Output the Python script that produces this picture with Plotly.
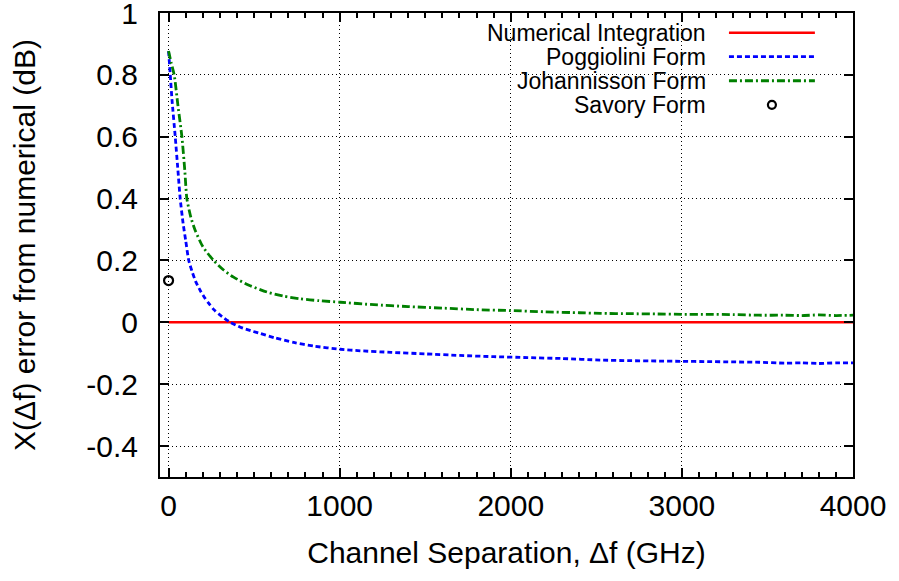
import plotly.graph_objects as go

# ---- data ----
num_x = [0, 4000]
num_y = [0, 0]

pog_x = [0, 10, 20, 39, 55, 68, 85, 100, 118, 140, 160, 185, 210, 234, 263, 300, 361, 420, 480,
         536, 620, 731, 850, 1004, 1121, 1300, 1500, 1700, 1900, 2100, 2300, 2524, 2700, 2850,
         3000, 3150, 3300, 3450, 3600, 3700, 3800, 3900, 4000]
pog_y = [0.877, 0.80, 0.72, 0.60, 0.49, 0.40, 0.32, 0.265, 0.20, 0.16, 0.13, 0.103, 0.08, 0.062,
         0.042, 0.024, 0.0, -0.016, -0.027, -0.036, -0.050, -0.065, -0.077, -0.087, -0.092, -0.097,
         -0.102, -0.107, -0.111, -0.114, -0.117, -0.122, -0.124, -0.125, -0.126, -0.127, -0.128,
         -0.129, -0.132, -0.131, -0.133, -0.131, -0.131]

joh_x = [0, 15, 33, 55, 78, 95, 107, 130, 156, 200, 263, 320, 380, 470, 575, 670, 770, 880, 1004,
         1200, 1400, 1600, 1800, 2000, 2200, 2400, 2524, 2700, 2850, 3000, 3150, 3300, 3450, 3600,
         3700, 3800, 3900, 4000]
joh_y = [0.877, 0.84, 0.80, 0.70, 0.60, 0.49, 0.40, 0.34, 0.297, 0.245, 0.20, 0.17, 0.146, 0.12,
         0.098, 0.085, 0.076, 0.07, 0.065, 0.057, 0.051, 0.046, 0.041, 0.038, 0.034, 0.031, 0.029,
         0.028, 0.027, 0.026, 0.026, 0.025, 0.023, 0.023, 0.022, 0.024, 0.022, 0.023]

sav_x = [0]
sav_y = [0.135]

x_ticks = [0, 1000, 2000, 3000, 4000]
x_ticktext = ["0", "1000", "2000", "3000", "4000"]
y_ticks = [-0.4, -0.2, 0, 0.2, 0.4, 0.6, 0.8, 1.0]
y_ticktext = ["-0.4", "-0.2", "0", "0.2", "0.4", "0.6", "0.8", "1"]

names = ["Numerical Integration", "Poggiolini Form", "Johannisson Form", "Savory Form"]

FONT = "Liberation Sans"

fig = go.Figure()
fig.add_trace(go.Scatter(x=num_x, y=num_y, mode="lines", name=names[0],
                         line=dict(color="#ff0000", width=2.5)))
fig.add_trace(go.Scatter(x=pog_x, y=pog_y, mode="lines", name=names[1],
                         line=dict(color="#0000ff", width=2.8, dash="5px,3px", shape="spline", smoothing=0.6)))
fig.add_trace(go.Scatter(x=joh_x, y=joh_y, mode="lines", name=names[2],
                         line=dict(color="#008000", width=2.8, dash="8px,3px,2px,3px", shape="spline", smoothing=0.6)))
fig.add_trace(go.Scatter(x=sav_x, y=sav_y, mode="markers", name=names[3],
                         marker=dict(symbol="circle-open", size=9, color="black", line=dict(width=2.2, color="black"))))

# ---- custom key (text left, sample right), opaque box ----
shapes = [dict(type="rect", xref="paper", yref="paper", x0=0.211, x1=0.973, y0=0.774, y1=1.0,
               fillcolor="white", line=dict(width=0), layer="between")]
rows = [0.9575, 0.906, 0.854, 0.802]
styles = [dict(color="#ff0000", width=2.5, dash="solid"),
          dict(color="#0000ff", width=2.8, dash="5px,3px"),
          dict(color="#008000", width=2.8, dash="8px,3px,2px,3px")]
annotations = []
for i, nm in enumerate(names):
    annotations.append(dict(xref="paper", yref="paper", x=0.791, y=rows[i], text=nm,
                            showarrow=False, xanchor="right", yanchor="middle",
                            font=dict(family=FONT, size=23, color="black")))
for i in range(3):
    shapes.append(dict(type="line", xref="paper", yref="paper", x0=0.821, x1=0.945,
                       y0=rows[i], y1=rows[i], line=styles[i], layer="above"))
shapes.append(dict(type="circle", xref="paper", yref="paper", xsizemode="pixel", ysizemode="pixel",
                   xanchor=0.883, yanchor=rows[3], x0=-4, x1=4, y0=-4, y1=4,
                   line=dict(color="black", width=2.2), layer="above"))

axis_common = dict(showline=True, linecolor="black", linewidth=2, mirror="ticks",
                   ticks="inside", tickcolor="black", tickwidth=1.5, ticklen=9,
                   showgrid=True, gridcolor="#000000", gridwidth=1, griddash="1px,3px",
                   zeroline=False, tickfont=dict(family=FONT, size=30, color="black"),
                   ticklabeloverflow="allow", automargin=False)

fig.update_layout(
    width=899, height=581,
    margin=dict(l=160, r=46, t=13, b=104),
    paper_bgcolor="white", plot_bgcolor="white",
    showlegend=False,
    shapes=shapes, annotations=annotations,
    font=dict(family=FONT, color="black"),
    xaxis=dict(range=[-50, 4000], tickmode="array", tickvals=x_ticks, ticktext=x_ticktext,
               minor=dict(dtick=100, tick0=0, ticks="inside", ticklen=5, tickcolor="black", showgrid=False),
               title=dict(text="Channel Separation, Δf (GHz)", font=dict(family=FONT, size=30), standoff=21),
               ticklabelstandoff=1,
               **axis_common),
    yaxis=dict(range=[-0.5, 1.00005], tickmode="array", tickvals=y_ticks, ticktext=y_ticktext,
               title=dict(text="X(Δf) error from numerical (dB)", font=dict(family=FONT, size=30), standoff=42),
               ticklabelstandoff=14,
               **axis_common),
)

fig.write_html("out.html")
